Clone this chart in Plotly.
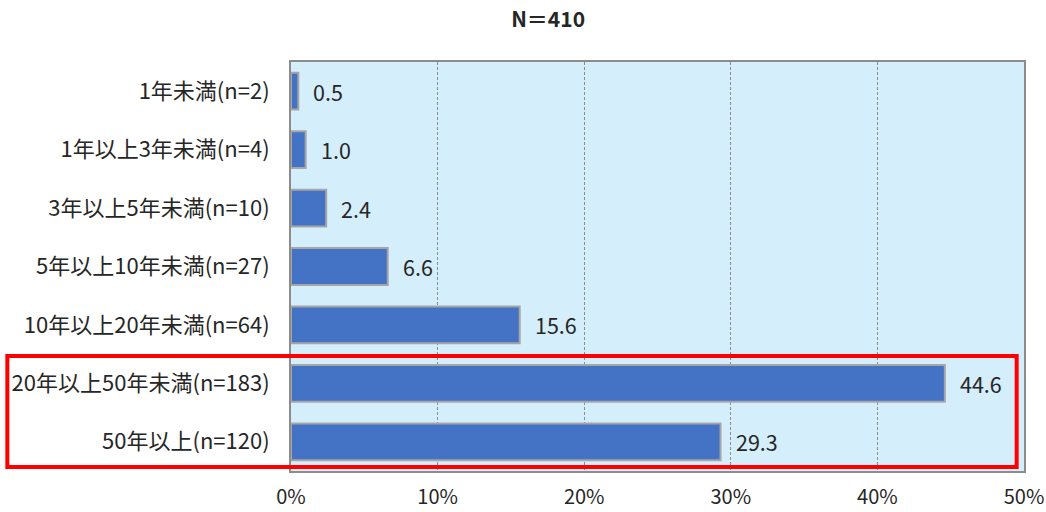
import plotly.graph_objects as go

categories = ["1年未満(n=2)", "1年以上3年未満(n=4)", "3年以上5年未満(n=10)",
              "5年以上10年未満(n=27)", "10年以上20年未満(n=64)",
              "20年以上50年未満(n=183)", "50年以上(n=120)"]
values = [0.5, 1.0, 2.4, 6.6, 15.6, 44.6, 29.3]
labels = ["0.5", "1.0", "2.4", "6.6", "15.6", "44.6", "29.3"]
tick_vals = [0, 10, 20, 30, 40, 50]
tick_text = ["0%", "10%", "20%", "30%", "40%", "50%"]
title_text = "N＝410"

FONT = "Noto Sans CJK JP"
TXT = "#262626"

fig = go.Figure()
fig.add_trace(go.Bar(
    x=values, y=categories, orientation="h",
    marker=dict(color="#4472C4", line=dict(color="#A6A6A6", width=2)),
    hoverinfo="skip",
))

for v, c, t in zip(values, categories, labels):
    fig.add_annotation(x=v, y=c, text=t, showarrow=False, xanchor="left",
                       xshift=13, font=dict(family=FONT, size=21.5, color=TXT))

fig.add_shape(type="rect", xref="paper", yref="paper",
              x0=-0.387, x1=0.990, y0=0.010, y1=0.281,
              line=dict(color="#FF0000", width=4), layer="above")

fig.update_layout(
    width=1046, height=512,
    margin=dict(l=291, r=22, t=62, b=41),
    paper_bgcolor="white", plot_bgcolor="#D5EEFB",
    bargap=0.37, showlegend=False,
    title=dict(text="<b>" + title_text + "</b>", x=0.524, xanchor="center",
               y=0.962, yanchor="middle",
               font=dict(family=FONT, size=21, color=TXT)),
    font=dict(family=FONT, size=20, color=TXT),
)
fig.update_xaxes(range=[0, 50], tickvals=tick_vals, ticktext=tick_text,
                 showgrid=True, gridcolor="#8C8C8C", griddash="3px,2px", gridwidth=1,
                 zeroline=False, showline=True, linecolor="#8C8C8C", linewidth=2,
                 mirror=True, ticks="outside", ticklen=7, tickcolor="rgba(0,0,0,0)",
                 tickfont=dict(family=FONT, size=20, color=TXT), fixedrange=True,
                 automargin=False)
fig.update_yaxes(categoryorder="array", categoryarray=categories, autorange="reversed",
                 showline=True, linecolor="#8C8C8C", linewidth=2, mirror=True,
                 ticks="outside", ticklen=15, tickcolor="rgba(0,0,0,0)",
                 tickfont=dict(family=FONT, size=22, color=TXT), fixedrange=True,
                 automargin=False)

fig.write_html("out.html")
